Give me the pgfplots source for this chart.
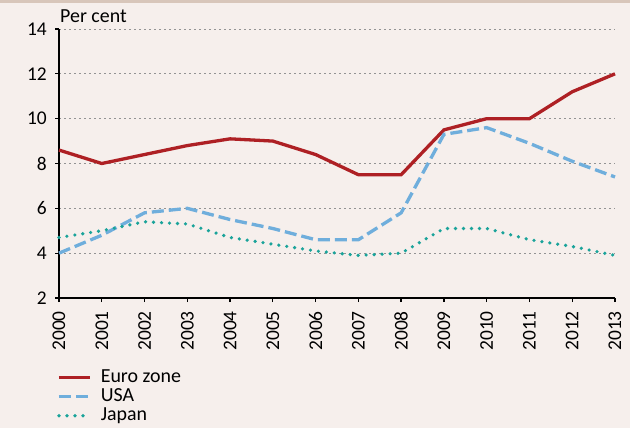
\documentclass[border=0pt]{standalone}
\usepackage{pgfplots}
\pgfplotsset{compat=1.18}
\usepackage{fontspec}
\setmainfont{Carlito}
\definecolor{bg}{HTML}{F6EFEC}
\definecolor{euro}{HTML}{AE2024}
\definecolor{usa}{HTML}{6FAEDC}
\definecolor{japan}{HTML}{1AA39A}
\definecolor{edge}{HTML}{D8C6BA}
\begin{document}
\begin{tikzpicture}[x=1bp,y=1bp]
\fill[bg] (0,0) rectangle (630,428);
\fill[edge] (0,425) rectangle (630,428);
\begin{axis}[
  at={(59bp,130bp)}, anchor=south west,
  scale only axis, width=556bp, height=269bp,
  xmin=2000, xmax=2013, ymin=2, ymax=14,
  xtick={2000,...,2013}, ytick={2,4,...,14},
  axis x line*=bottom, axis y line*=left,
  axis line style={black, line width=1.5bp, -},
  xticklabel style={rotate=90, anchor=east, inner sep=0pt, xshift=-9bp},
  yticklabel style={inner sep=0pt, xshift=-8bp},
  x tick label style={/pgf/number format/.cd, 1000 sep={}},
  /pgf/number format/assume math mode=true,
  tick label style={font=\fontsize{19.5}{20}\selectfont},
  tick style={black, line width=1.3bp},
  tick align=outside, major tick length=4bp,
  ymajorgrids, grid style={gray!85, dash pattern=on 2bp off 3bp, line width=0.7bp},
  clip=false,
  legend style={at={(axis description cs:0,0)}, anchor=north west, xshift=-2bp, yshift=-70bp, draw=none, fill=none, inner sep=0pt, font=\fontsize{20}{20}\selectfont, row sep=0bp, column sep=0bp, cells={anchor=west},
     nodes={inner sep=0pt, text height=14bp, text depth=5bp}},
  legend cell align=left,
  legend image code/.code={\draw[#1] (0bp,0bp) -- (31bp,0bp); \path (40bp,0bp);},
]
\addplot[euro, line width=3.3bp] coordinates {
(2000,8.6)(2001,8.0)(2002,8.4)(2003,8.8)(2004,9.1)(2005,9.0)(2006,8.4)(2007,7.5)(2008,7.5)(2009,9.5)(2010,10.0)(2011,10.0)(2012,11.2)(2013,12.0)};
\addlegendentry{Euro zone}
\addplot[usa, line width=3.3bp, dash pattern=on 12bp off 5bp] coordinates {
(2000,4.0)(2001,4.8)(2002,5.8)(2003,6.0)(2004,5.5)(2005,5.1)(2006,4.6)(2007,4.6)(2008,5.8)(2009,9.3)(2010,9.6)(2011,8.9)(2012,8.1)(2013,7.4)};
\addlegendentry{USA}
\addplot[japan, line width=3.6bp, line cap=round, dash pattern=on 0bp off 8bp] coordinates {
(2000,4.7)(2001,5.0)(2002,5.4)(2003,5.3)(2004,4.7)(2005,4.4)(2006,4.1)(2007,3.9)(2008,4.0)(2009,5.1)(2010,5.1)(2011,4.6)(2012,4.3)(2013,3.9)};
\addlegendentry{Japan}
\node[anchor=base west, inner sep=0pt, font=\fontsize{20}{20}\selectfont] at (axis description cs:0,1) [yshift=6bp, xshift=1bp] {Per cent};
\end{axis}
\end{tikzpicture}
\end{document}
